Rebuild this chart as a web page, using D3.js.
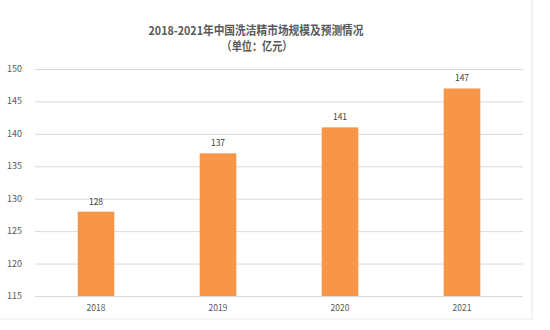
<!DOCTYPE html>
<html>
<head>
<meta charset="utf-8">
<script src="https://cdn.jsdelivr.net/npm/d3@7"></script>
<style>
  body { margin: 0; background: #fff; }
  #barChart { width: 550px; height: 330px; }
  text { font-family: "Noto Sans CJK SC", "Liberation Sans", sans-serif; }
</style>
</head>
<body>
<div id="barChart"></div>
<script>
var years = ["2018", "2019", "2020", "2021"];
var values = [128, 137, 141, 147];
var yTicks = [115, 120, 125, 130, 135, 140, 145, 150];

var width = 550, height = 330;
var padding = { top: 69, right: 27, bottom: 34, left: 35 };

var svg = d3.select("#barChart").append("svg")
  .attr("width", width)
  .attr("height", height);

// title
svg.append("text")
  .attr("x", 256).attr("y", 35)
  .attr("text-anchor", "middle")
  .attr("textLength", 215).attr("lengthAdjust", "spacingAndGlyphs")
  .style("font-size", "12px").style("font-weight", "bold").style("fill", "#595959")
  .text("2018-2021年中国洗洁精市场规模及预测情况");
svg.append("text")
  .attr("x", 257).attr("y", 51)
  .attr("text-anchor", "middle")
  .attr("textLength", 71).attr("lengthAdjust", "spacingAndGlyphs")
  .style("font-size", "12px").style("font-weight", "bold").style("fill", "#595959")
  .text("（单位：亿元）");

var xscale = d3.scaleBand()
  .domain(years)
  .range([padding.left, width - padding.right])
  .paddingInner(0.7).paddingOuter(0.35);

var yscale = d3.scaleLinear()
  .domain([115, 150])
  .range([height - padding.bottom, padding.top]);

// gridlines
svg.append("g")
  .attr("transform", "translate(" + padding.left + ",0)")
  .call(d3.axisLeft(yscale).tickValues(yTicks)
    .tickSize(-(width - padding.left - padding.right)).tickFormat(""))
  .call(function (g) { g.select(".domain").remove(); })
  .call(function (g) { g.selectAll("line").attr("stroke", "#d9d9d9"); });

// y labels
svg.append("g")
  .selectAll("text")
  .data(yTicks)
  .enter().append("text")
  .attr("x", 22).attr("y", function (d) { return yscale(d) + 3; })
  .attr("text-anchor", "end")
  .style("font-size", "9px").style("fill", "#595959")
  .text(function (d) { return d; });

// bars
svg.selectAll(".bar")
  .data(values)
  .enter().append("rect")
  .attr("class", "bar")
  .attr("x", function (d, i) { return xscale(years[i]); })
  .attr("y", function (d) { return yscale(d); })
  .attr("width", xscale.bandwidth())
  .attr("height", function (d) { return yscale(115) - yscale(d); })
  .attr("fill", "#F79646");

// value labels
svg.selectAll(".val")
  .data(values)
  .enter().append("text")
  .attr("class", "val")
  .attr("x", function (d, i) { return xscale(years[i]) + xscale.bandwidth() / 2; })
  .attr("y", function (d) { return yscale(d) - 7; })
  .attr("text-anchor", "middle")
  .style("font-size", "8.5px").style("fill", "#404040")
  .text(function (d) { return d; });

// x labels
svg.selectAll(".xl")
  .data(years)
  .enter().append("text")
  .attr("class", "xl")
  .attr("x", function (d) { return xscale(d) + xscale.bandwidth() / 2; })
  .attr("y", height - padding.bottom + 15)
  .attr("text-anchor", "middle")
  .style("font-size", "8.5px").style("fill", "#595959")
  .text(function (d) { return d; });

// faint frame edges (from the source screenshot)
svg.append("line")
  .attr("x1", 532).attr("x2", 532).attr("y1", 0).attr("y2", 320)
  .attr("stroke", "#e6e6e6");
svg.append("line")
  .attr("x1", 0).attr("x2", 532).attr("y1", 319).attr("y2", 319)
  .attr("stroke", "#ececec");
</script>
</body>
</html>
